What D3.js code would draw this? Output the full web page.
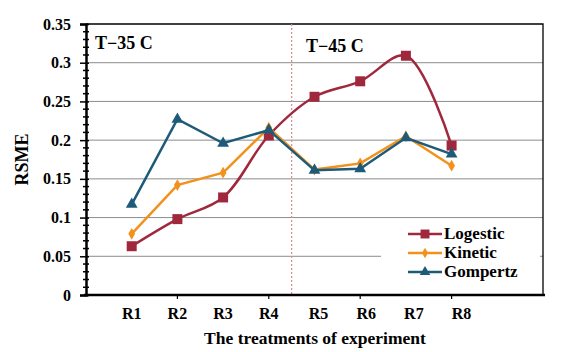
<!DOCTYPE html>
<html>
<head>
<meta charset="utf-8">
<script src="https://cdn.jsdelivr.net/npm/d3@7"></script>
<style>
    body { margin: 0; background: #fff; }
    text { font-family: "Liberation Serif", "DejaVu Serif", serif; font-weight: bold; fill: #000; }
</style>
</head>
<body>
<div id="chart"></div>
<script>
    var categories = ["R1", "R2", "R3", "R4", "R5", "R6", "R7", "R8"];
    var logestic = [0.063, 0.098, 0.126, 0.206, 0.256, 0.276, 0.309, 0.193];
    var kinetic = [0.079, 0.142, 0.158, 0.216, 0.162, 0.170, 0.205, 0.167];
    var gompertz = [0.117, 0.227, 0.196, 0.213, 0.161, 0.163, 0.203, 0.182];
    var yTicks = [0, 0.05, 0.1, 0.15, 0.2, 0.25, 0.3, 0.35];
    var seriesNames = ["Logestic", "Kinetic", "Gompertz"];
    var tempLabels = ["T\u221235 C", "T\u221245 C"];

    var width = 575, height = 352;
    var plotLeft = 86, plotRight = 543, plotTop = 24, plotBottom = 295;

    var svg = d3.select("#chart").append("svg")
        .attr("width", width)
        .attr("height", height);

    // ten slots across the plot, the eight treatments sit in slots 1..8
    var x = d3.scaleLinear().domain([0, 10]).range([plotLeft, plotRight]);
    var y = d3.scaleLinear().domain([0, 0.35]).range([plotBottom, plotTop]);

    // grid lines
    svg.append("g").selectAll("line")
        .data(yTicks.filter(function (d) { return d > 0 && d < 0.35; }))
        .enter().append("line")
        .attr("x1", plotLeft).attr("x2", plotRight)
        .attr("y1", function (d) { return y(d); })
        .attr("y2", function (d) { return y(d); })
        .attr("stroke", "#8c8c8c")
        .attr("stroke-width", 1);

    // top and right border
    svg.append("path")
        .attr("d", "M" + plotLeft + "," + y(0.35) + "H" + plotRight + "V" + plotBottom)
        .attr("fill", "none")
        .attr("stroke", "#000")
        .attr("stroke-width", 1.3);

    // divider between the two temperatures
    svg.append("line")
        .attr("x1", x(4.5)).attr("x2", x(4.5))
        .attr("y1", plotTop).attr("y2", plotBottom)
        .attr("stroke", "#e08890")
        .attr("stroke-width", 1.2)
        .attr("stroke-dasharray", "2,2");

    // y axis
    var yAxis = d3.axisLeft(y).tickValues(yTicks)
        .tickFormat(function (d) { return d === 0 ? "0" : String(+d.toFixed(2)); })
        .tickSize(6).tickPadding(9);
    var yg = svg.append("g")
        .attr("transform", "translate(" + plotLeft + ",0)")
        .call(yAxis);
    yg.select(".domain").attr("stroke-width", 2.5);
    yg.selectAll(".tick line").attr("x2", 3).attr("x1", -6).attr("stroke-width", 1.5);
    yg.selectAll("text").attr("font-size", 16);

    // minor ticks
    svg.append("g").selectAll("line")
        .data(d3.range(1, 35).filter(function (i) { return i % 5 !== 0; }))
        .enter().append("line")
        .attr("x1", plotLeft - 3).attr("x2", plotLeft + 3)
        .attr("y1", function (i) { return y(i / 100); })
        .attr("y2", function (i) { return y(i / 100); })
        .attr("stroke", "#000")
        .attr("stroke-width", 1.5);

    // x axis
    var xg = svg.append("g").attr("transform", "translate(0," + plotBottom + ")");
    xg.append("line")
        .attr("x1", plotLeft - 2).attr("x2", plotRight + 2)
        .attr("stroke", "#000")
        .attr("stroke-width", 2.5);
    xg.selectAll(".xtick")
        .data([2, 4, 6, 8])
        .enter().append("line")
        .attr("class", "xtick")
        .attr("x1", function (d) { return x(d); })
        .attr("x2", function (d) { return x(d); })
        .attr("y1", 0).attr("y2", 4)
        .attr("stroke", "#000")
        .attr("stroke-width", 1.2);
    xg.selectAll("text")
        .data(categories)
        .enter().append("text")
        .attr("x", function (d, i) { return x(i + 1) + (i > 3 ? 4 + (i - 4) * 2 : 0); })
        .attr("y", 24)
        .attr("text-anchor", "middle")
        .attr("font-size", 16)
        .text(function (d) { return d; });

    // series
    var series = [
        { name: seriesNames[0], values: logestic, color: "#a0283c", shape: "square", curve: d3.curveCatmullRom.alpha(0.5) },
        { name: seriesNames[1], values: kinetic, color: "#f2921d", shape: "diamond", curve: d3.curveLinear },
        { name: seriesNames[2], values: gompertz, color: "#1e5b7a", shape: "triangle", curve: d3.curveLinear }
    ];

    function marker(shape, size) {
        var sym = shape === "square" ? d3.symbolSquare : shape === "diamond" ? d3.symbolDiamond : d3.symbolTriangle;
        return d3.symbol().type(sym).size(size)();
    }

    var sizes = { square: 100, diamond: 40, triangle: 60 };

    series.forEach(function (s) {
        var line = d3.line()
            .x(function (d, i) { return x(i + 1); })
            .y(function (d) { return y(d); })
            .curve(s.curve);
        svg.append("path")
            .attr("d", line(s.values))
            .attr("fill", "none")
            .attr("stroke", s.color)
            .attr("stroke-width", 2.5);
        svg.append("g").selectAll("path")
            .data(s.values)
            .enter().append("path")
            .attr("transform", function (d, i) { return "translate(" + x(i + 1) + "," + y(d) + ")"; })
            .attr("d", marker(s.shape, sizes[s.shape]))
            .attr("fill", s.color);
    });

    // temperature labels
    svg.append("text").attr("x", 95).attr("y", 49).attr("font-size", 18).text(tempLabels[0]);
    svg.append("text").attr("x", 306).attr("y", 52).attr("font-size", 18).text(tempLabels[1]);

    // legend
    var legend = svg.append("g");
    legend.append("rect")
        .attr("x", 381).attr("y", 226).attr("width", 159).attr("height", 62)
        .attr("fill", "#fff");
    series.forEach(function (s, i) {
        var ly = 234 + i * 19;
        legend.append("line")
            .attr("x1", 408).attr("x2", 442)
            .attr("y1", ly).attr("y2", ly)
            .attr("stroke", s.color)
            .attr("stroke-width", 2.5);
        legend.append("path")
            .attr("transform", "translate(425," + ly + ")")
            .attr("d", marker(s.shape, sizes[s.shape] * 0.8))
            .attr("fill", s.color);
        legend.append("text")
            .attr("x", 444).attr("y", ly + 5)
            .attr("font-size", 17)
            .style("font-family", "Liberation Serif")
            .text(s.name);
    });

    // axis titles
    svg.append("text")
        .attr("transform", "translate(28," + ((plotTop + plotBottom) / 2) + ") rotate(-90)")
        .attr("text-anchor", "middle")
        .attr("font-size", 18)
        .text("RSME");
    svg.append("text")
        .attr("x", 315).attr("y", 344)
        .attr("text-anchor", "middle")
        .attr("font-size", 17.5)
        .text("The treatments of experiment");
</script>
</body>
</html>
